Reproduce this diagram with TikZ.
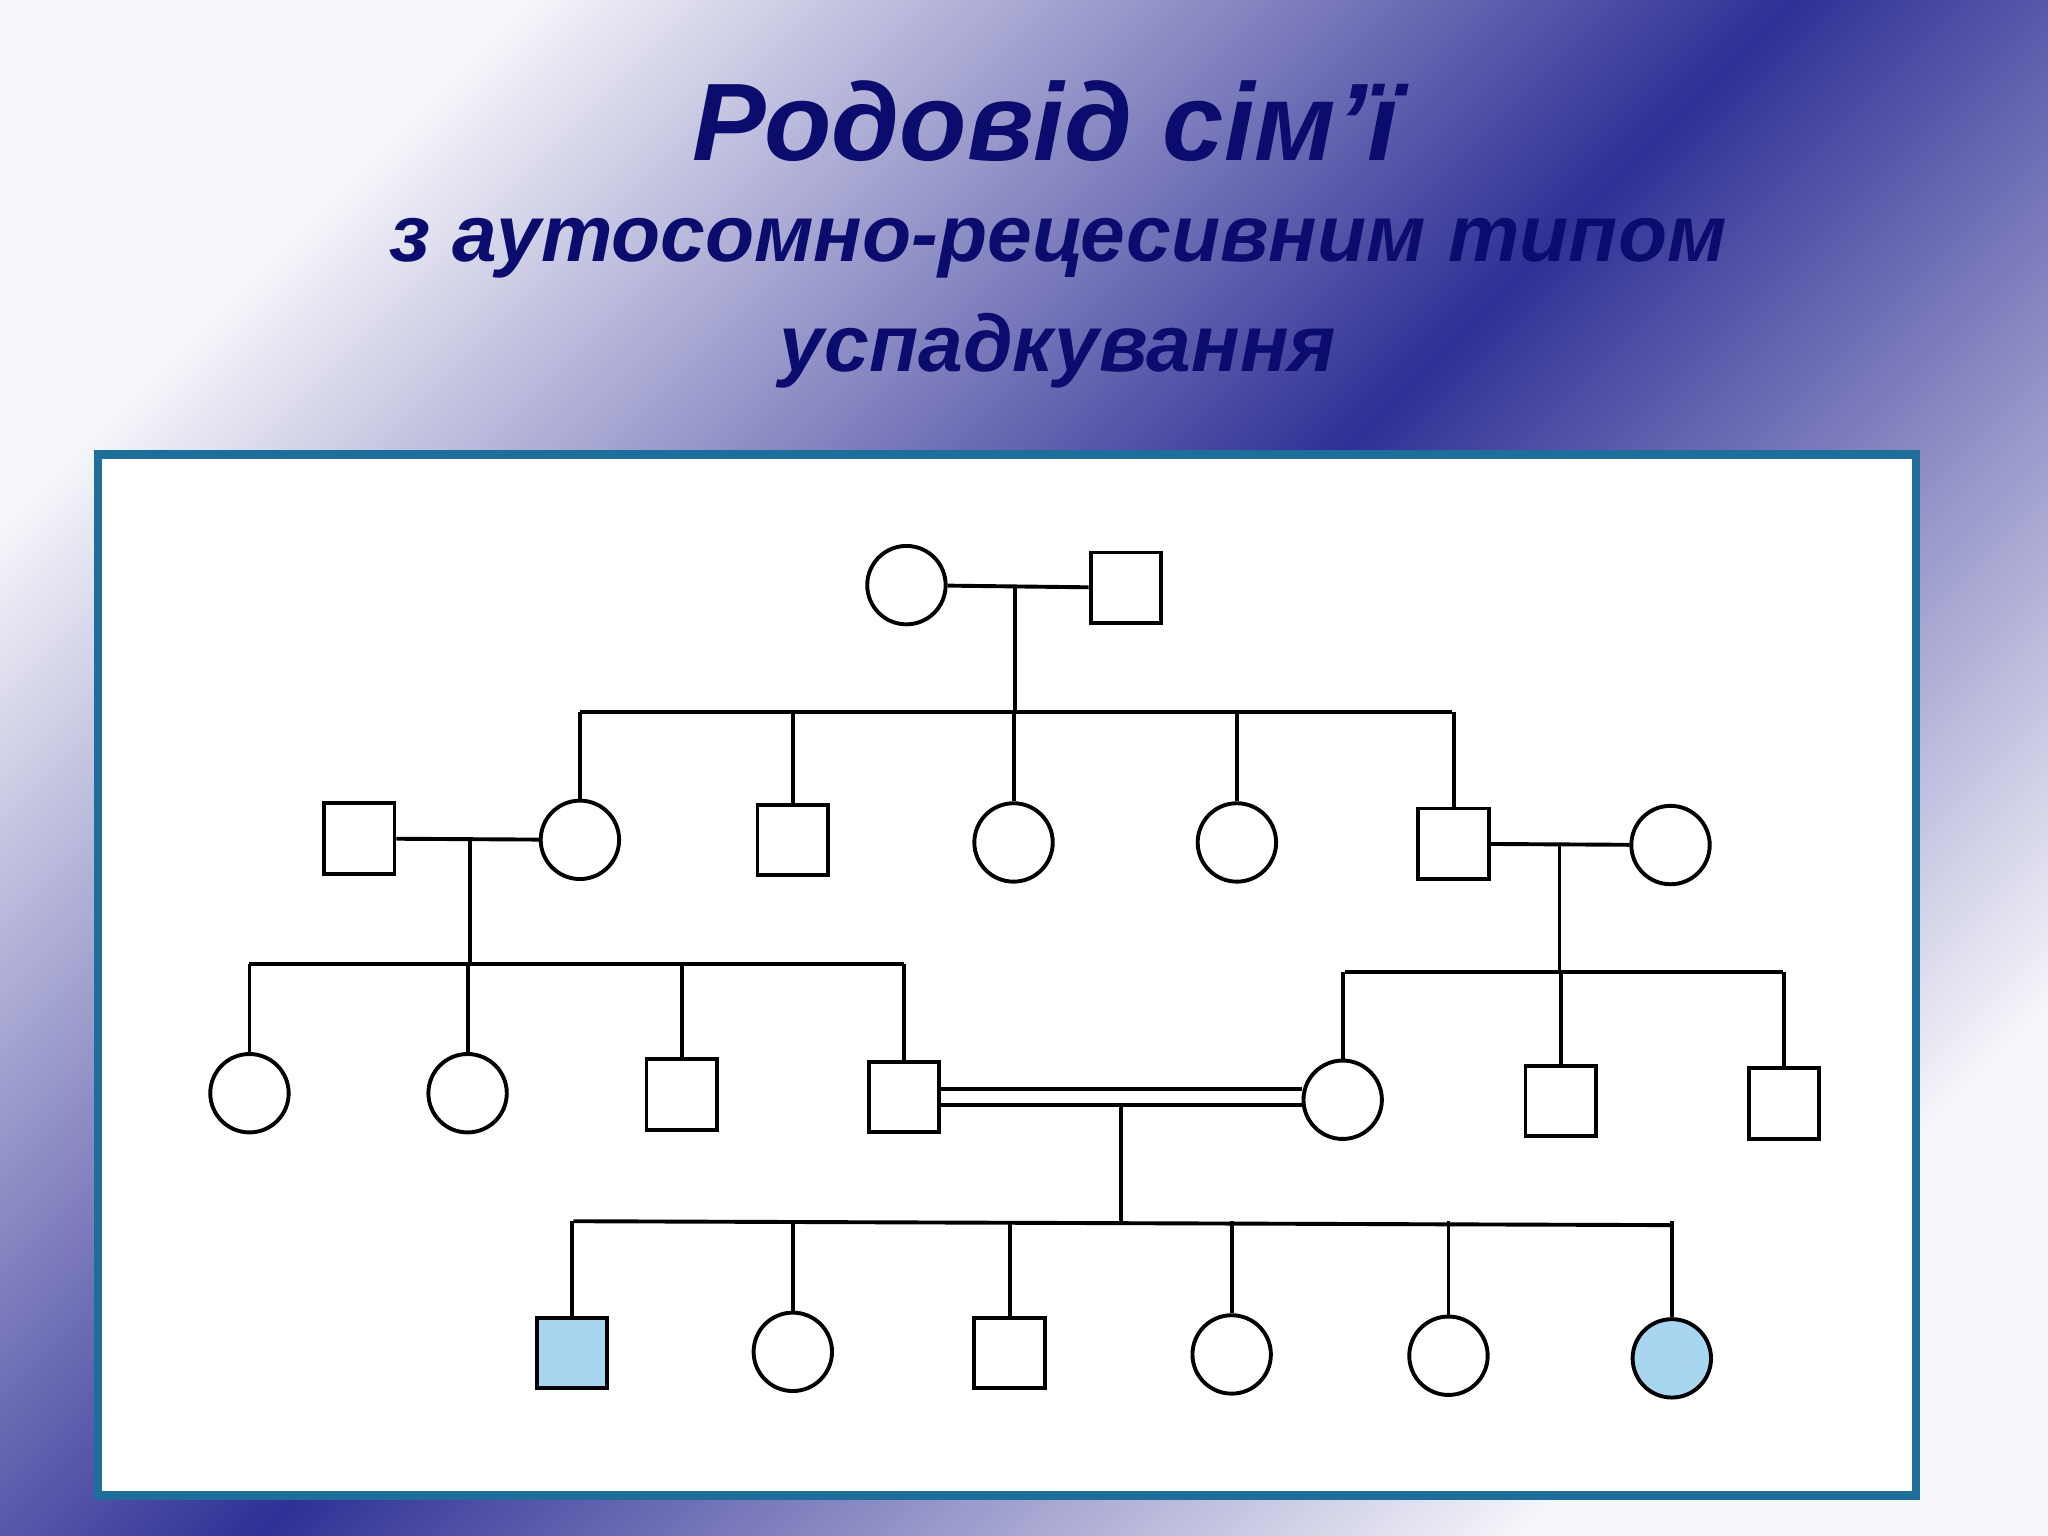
\documentclass[tikz,border=0pt]{standalone}
\usepackage{fontspec}
\setmainfont{Liberation Sans}
\begin{document}
\begin{tikzpicture}[x=0.01cm,y=-0.01cm,
  fem/.style={circle,draw,line width=0.85pt,minimum size=0.6cm,inner sep=0pt,fill=white},
  mal/.style={rectangle,draw,line width=0.85pt,minimum size=0.54cm,inner sep=0pt,fill=white},
  ln/.style={line width=0.85pt}]
\definecolor{titc}{RGB}{12,12,110}
\definecolor{dk}{RGB}{48,48,150}
\definecolor{lt}{RGB}{245,245,250}
\definecolor{affc}{RGB}{168,214,240}
\useasboundingbox (0,0) rectangle (1568,1176);
\shade[top color=lt,bottom color=lt,middle color=dk,shading angle=45] (0,0) rectangle (1568,1176);
\draw[line width=1.8pt,draw={rgb,255:red,30;green,110;blue,155},fill=white] (75,348) rectangle (1467,1145);
\node[text=titc,font=\bfseries\itshape\fontsize{24}{28}\selectfont] (t1) at (800,93) {Родовід сім’ї};
\node[text=titc,font=\bfseries\itshape\fontsize{17.5}{22}\selectfont,align=center] (t2) at (810,232) {з аутосомно-рецесивним типом\\[2pt]успадкування};
% gen1
\node[fem] (a1) at (694,448) {};
\node[mal] (a2) at (862,450) {};
% gen2
\node[mal] (b0) at (275,642) {};
\node[fem] (b1) at (444,643) {};
\node[mal] (b2) at (607,643) {};
\node[fem] (b3) at (776,645) {};
\node[fem] (b4) at (947,645) {};
\node[mal] (b5) at (1113,646) {};
\node[fem] (b6) at (1279,647) {};
% gen3
\node[fem] (c1) at (191,837) {};
\node[fem] (c2) at (358,837) {};
\node[mal] (c3) at (522,838) {};
\node[mal] (c4) at (692,840) {};
\node[fem] (c5) at (1028,842) {};
\node[mal] (c6) at (1195,843) {};
\node[mal] (c7) at (1366,845) {};
% gen4
\node[mal,fill=affc] (d1) at (438,1036) {};
\node[fem] (d2) at (607,1035) {};
\node[mal] (d3) at (773,1036) {};
\node[fem] (d4) at (943,1037) {};
\node[fem] (d5) at (1109,1038) {};
\node[fem,fill=affc] (d6) at (1280,1040) {};
\coordinate (m1) at (777,448);
\coordinate (m2) at (360,642);
\coordinate (m3) at (1194,647);
\coordinate (m4) at (858,846);
\coordinate (s1) at (777,545);
\coordinate (s2) at (360,738);
\coordinate (s3) at (1194,744);
\coordinate (s4) at (858,935);
\begin{scope}[ln]
\draw (a1) -- (a2); \draw (m1) -- (s1);
\draw (444,545) -- (1112,545);
\foreach \n in {b1,b2,b3,b4,b5} \draw (s1 -| \n) -- (\n);
\draw (b0) -- (b1); \draw (m2) -- (s2);
\draw (191,738) -- (692,738);
\foreach \n in {c1,c2,c3,c4} \draw (s2 -| \n) -- (\n);
\draw (b5) -- (b6); \draw (m3) -- (s3);
\draw (1030,744) -- (1365,744);
\foreach \n in {c5,c6,c7} \draw (s3 -| \n) -- (\n);
\draw ([yshift=0.06cm]c4.east) -- ([yshift=0.06cm]c4.east -| c5.west);
\draw ([yshift=-0.06cm]c4.east) -- ([yshift=-0.06cm]c4.east -| c5.west);
\draw (m4) -- (s4);
\draw (439,935) -- (1280,938);
\foreach \n in {d1,d2,d3,d4,d5,d6} \draw (s4 -| \n) -- (\n);
\end{scope}
\end{tikzpicture}
\end{document}
